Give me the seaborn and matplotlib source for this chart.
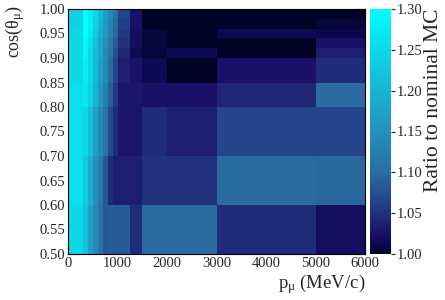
import numpy as np
import matplotlib
matplotlib.use("Agg")
import matplotlib.pyplot as plt
from matplotlib.colors import LinearSegmentedColormap
from matplotlib.ticker import AutoMinorLocator, FormatStrFormatter
import seaborn as sns

# bin edges
p_edges = [0, 300, 400, 500, 600, 700, 800, 900, 1000, 1250, 1500, 2000, 3000, 5000, 6000]
cos_edges = [0.50, 0.60, 0.70, 0.80, 0.85, 0.90, 0.92, 0.94, 0.96, 0.98, 1.00]

# ratio to nominal MC, one list per cos(theta) slice (low to high)
ratio_050_060 = [1.25, 1.22, 1.17, 1.14, 1.11, 1.08, 1.085, 1.085, 1.085, 1.045, 1.10, 1.10, 1.045, 1.02]
ratio_060_070 = [1.26, 1.23, 1.19, 1.15, 1.12, 1.08, 1.045, 1.035, 1.035, 1.035, 1.05, 1.05, 1.10, 1.095]
ratio_070_080 = [1.26, 1.25, 1.21, 1.17, 1.14, 1.11, 1.07, 1.045, 1.03, 1.03, 1.045, 1.035, 1.065, 1.065]
ratio_080_085 = [1.26, 1.27, 1.24, 1.20, 1.16, 1.13, 1.09, 1.055, 1.03, 1.03, 1.025, 1.025, 1.04, 1.10]
ratio_085_090 = [1.25, 1.28, 1.25, 1.21, 1.17, 1.14, 1.10, 1.065, 1.035, 1.025, 1.012, 1.00, 1.025, 1.045]
ratio_090_092 = [1.25, 1.29, 1.25, 1.21, 1.18, 1.14, 1.11, 1.075, 1.04, 1.012, 1.005, 1.012, 1.00, 1.035]
ratio_092_094 = [1.25, 1.29, 1.26, 1.22, 1.18, 1.15, 1.12, 1.085, 1.05, 1.02, 1.005, 1.00, 1.00, 1.025]
ratio_094_096 = [1.25, 1.30, 1.27, 1.23, 1.19, 1.16, 1.13, 1.095, 1.055, 1.02, 1.005, 1.00, 1.012, 1.01]
ratio_096_098 = [1.24, 1.30, 1.28, 1.24, 1.20, 1.16, 1.13, 1.10, 1.06, 1.025, 1.00, 1.00, 1.00, 1.005]
ratio_098_100 = [1.24, 1.30, 1.28, 1.25, 1.21, 1.17, 1.14, 1.11, 1.065, 1.025, 1.00, 1.00, 1.00, 1.00]

ratio = np.array([ratio_050_060, ratio_060_070, ratio_070_080, ratio_080_085,
                  ratio_085_090, ratio_090_092, ratio_092_094, ratio_094_096,
                  ratio_096_098, ratio_098_100])

sns.set_theme(style="ticks")
plt.rcParams['font.family'] = ['Liberation Serif', 'DejaVu Serif']
plt.rcParams['mathtext.fontset'] = 'custom'
plt.rcParams['mathtext.rm'] = 'Liberation Serif'
plt.rcParams['mathtext.it'] = 'Liberation Serif:italic'

vmin, vmax = 1.0, 1.3
nodes = [(1.00, "#020226"), (1.01, "#0c0850"), (1.025, "#1a1068"), (1.04, "#1f2676"),
         (1.065, "#24448c"), (1.10, "#2a6ca2"), (1.15, "#2490bc"), (1.20, "#18b4d4"),
         (1.25, "#0cd8e8"), (1.30, "#00ffff")]
cmap = LinearSegmentedColormap.from_list(
    "ratio", [((v - vmin) / (vmax - vmin), c) for v, c in nodes])

fig = plt.figure(figsize=(4.45, 3.0), dpi=100)
ax = fig.add_axes([68/445, 46/300, 297/445, 245/300])
cax = fig.add_axes([370/445, 46/300, 21/445, 245/300])

mesh = ax.pcolormesh(p_edges, cos_edges, ratio, cmap=cmap, vmin=vmin, vmax=vmax)
ax.set_xlim(0, 6000)
ax.set_ylim(0.5, 1.0)
ax.set_xticks(np.arange(0, 6001, 1000))
ax.set_yticks(np.arange(0.5, 1.001, 0.05))
ax.yaxis.set_major_formatter(FormatStrFormatter('%.2f'))
ax.xaxis.set_minor_locator(AutoMinorLocator(5))
ax.yaxis.set_minor_locator(AutoMinorLocator(5))
ax.tick_params(which='both', direction='in', top=True, right=True, labelsize=10.5,
               color='black', width=0.8)
ax.tick_params(which='major', length=8, pad=2)
ax.tick_params(which='minor', length=4)
for s in ax.spines.values():
    s.set_linewidth(0.8)
    s.set_color('black')

cb = fig.colorbar(mesh, cax=cax)
cb.outline.set_visible(False)
cb.set_ticks(np.arange(1.0, 1.301, 0.05))
cb.ax.yaxis.set_major_formatter(FormatStrFormatter('%.2f'))
cax.tick_params(direction='out', length=3, width=0.8, labelsize=10.5, pad=1)
cax.minorticks_off()

fig.text(15/445, 1 - 5/300, r'cos($\mathrm{\theta_{\mu}}$)', rotation=90,
         ha='center', va='top', fontsize=13)
fig.text(365/445, 1 - 284/300, r'p$_{\mathrm{\mu}}$ (MeV/c)', ha='right',
         va='center', fontsize=13.5)
fig.text(434/445, 1 - 8/300, 'Ratio to nominal MC', rotation=90,
         ha='center', va='top', fontsize=15.5)

fig.savefig("out.png", dpi=100)
